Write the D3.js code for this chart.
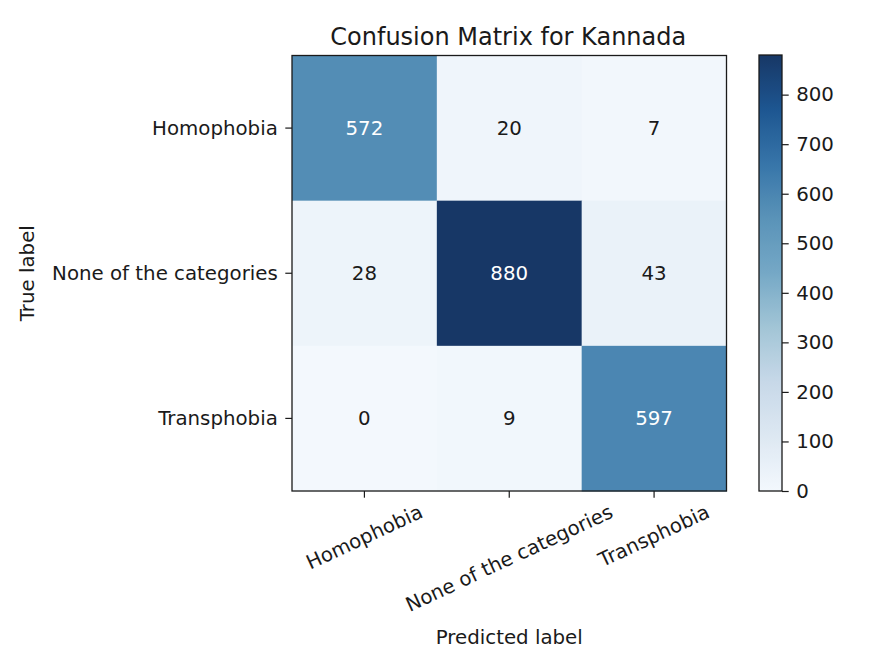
<!DOCTYPE html>
<html>
<head>
<meta charset="utf-8">
<script src="https://cdn.jsdelivr.net/npm/d3@7"></script>
<style>
  html, body { margin: 0; padding: 0; background: #fff; }
  svg { display: block; font-family: "DejaVu Sans", sans-serif; }
</style>
</head>
<body>
<svg id="chart" width="885" height="670"></svg>
<script>
// ---- data ----
const trueLabels = ["Homophobia", "None of the categories", "Transphobia"];
const predLabels = ["Homophobia", "None of the categories", "Transphobia"];
const rowHomophobia = [572, 20, 7];
const rowNone = [28, 880, 43];
const rowTransphobia = [0, 9, 597];
const colorbarTicks = [0, 100, 200, 300, 400, 500, 600, 700, 800];
const titleText = "Confusion Matrix for Kannada";
const xTitle = "Predicted label";
const yTitle = "True label";

const matrix = [rowHomophobia, rowNone, rowTransphobia];
const cells = [];
matrix.forEach((row, i) => row.forEach((v, j) => cells.push({ t: trueLabels[i], p: predLabels[j], v })));
const vmax = d3.max(cells, d => d.v);

// ---- layout ----
const svg = d3.select("#chart");
const L = 292, R = 726.5, T = 55.5, B = 491;
const fs = 19.8, titleFs = 24;
const tickLen = 6.7, pad = 7.5;
const ink = "#1a1a1a";

// matplotlib Blues, slightly muted to match the reference rendering
const bluesStops = ["#f7fbff", "#deebf7", "#c6dbef", "#9ecae1", "#6baed6", "#4292c6", "#2171b5", "#08519c", "#08306b"]
  .map(c => {
    const h = d3.hsl(c);
    h.s *= 0.74;
    if (h.l < 0.6) h.l = h.l + 0.02; else h.l = h.l - 0.012;
    return h.formatHex();
  });
const blues = d3.scaleLinear().domain(d3.range(9).map(i => i / 8)).range(bluesStops).interpolate(d3.interpolateRgb);
const color = v => blues(v / vmax);

const x = d3.scaleBand().domain(predLabels).range([L, R]);
const y = d3.scaleBand().domain(trueLabels).range([T, B]);

// cells
svg.append("g").selectAll("rect").data(cells).join("rect")
  .attr("x", d => x(d.p)).attr("y", d => y(d.t))
  .attr("width", x.bandwidth() + 0.5).attr("height", y.bandwidth() + 0.5)
  .attr("fill", d => color(d.v));

// cell text
svg.append("g").selectAll("text").data(cells).join("text")
  .attr("x", d => x(d.p) + x.bandwidth() / 2)
  .attr("y", d => y(d.t) + y.bandwidth() / 2)
  .attr("text-anchor", "middle").attr("dominant-baseline", "central")
  .attr("font-size", fs)
  .attr("fill", d => d.v > vmax / 2 ? "#ffffff" : ink)
  .text(d => d.v);

// frame
svg.append("rect").attr("x", L).attr("y", T).attr("width", R - L).attr("height", B - T)
  .attr("fill", "none").attr("stroke", ink).attr("stroke-width", 1.3);

// y axis
const yAxis = svg.append("g");
trueLabels.forEach(lbl => {
  const cy = y(lbl) + y.bandwidth() / 2;
  yAxis.append("line").attr("x1", L - tickLen).attr("x2", L).attr("y1", cy).attr("y2", cy)
    .attr("stroke", ink).attr("stroke-width", 1.2);
  yAxis.append("text").attr("x", L - tickLen - pad).attr("y", cy)
    .attr("text-anchor", "end").attr("dominant-baseline", "central")
    .attr("font-size", fs).attr("fill", ink).text(lbl);
});

// x axis (rotated 25deg, bbox centred on tick, top-aligned)
const xAxis = svg.append("g");
const ang = 25 * Math.PI / 180;
predLabels.forEach(lbl => {
  const cx = x(lbl) + x.bandwidth() / 2;
  xAxis.append("line").attr("x1", cx).attr("x2", cx).attr("y1", B).attr("y2", B + tickLen)
    .attr("stroke", ink).attr("stroke-width", 1.2);
  const t = xAxis.append("text")
    .attr("text-anchor", "middle").attr("dominant-baseline", "central")
    .attr("font-size", fs).attr("fill", ink).text(lbl);
  const w = t.node().getComputedTextLength();
  const h = fs * 0.9;
  const bh = w * Math.sin(ang) + h * Math.cos(ang);
  const cyy = B + tickLen + 5 + bh / 2;
  t.attr("transform", `translate(${cx},${cyy}) rotate(-25)`);
});

// axis titles
svg.append("text").attr("x", (L + R) / 2).attr("y", 644)
  .attr("text-anchor", "middle").attr("font-size", fs).attr("fill", ink).text(xTitle);
svg.append("text").attr("transform", `translate(34,${(T + B) / 2}) rotate(-90)`)
  .attr("text-anchor", "middle").attr("font-size", fs).attr("fill", ink).text(yTitle);

// title
svg.append("text").attr("x", (L + R) / 2 - 1).attr("y", 45)
  .attr("text-anchor", "middle").attr("font-size", titleFs).attr("fill", ink).text(titleText);

// colorbar
const cbL = 759, cbR = 782, cbT = 55, cbB = 491;
const cScale = d3.scaleLinear().domain([0, vmax]).range([cbB, cbT]);
const defs = svg.append("defs");
const grad = defs.append("linearGradient").attr("id", "cbgrad")
  .attr("x1", 0).attr("y1", 1).attr("x2", 0).attr("y2", 0);
d3.range(0, 1.0001, 1 / 64).forEach(f => {
  grad.append("stop").attr("offset", f).attr("stop-color", blues(f));
});
svg.append("rect").attr("x", cbL).attr("y", cbT).attr("width", cbR - cbL).attr("height", cbB - cbT)
  .attr("fill", "url(#cbgrad)").attr("stroke", ink).attr("stroke-width", 1.3);
const cAxis = svg.append("g").attr("transform", `translate(${cbR},0)`)
  .call(d3.axisRight(cScale).tickValues(colorbarTicks).tickSize(tickLen).tickPadding(pad).tickFormat(d3.format("d")));
cAxis.select(".domain").remove();
cAxis.selectAll("line").attr("stroke", ink).attr("stroke-width", 1.2);
cAxis.selectAll("text").attr("font-size", fs).attr("font-family", "DejaVu Sans, sans-serif").attr("fill", ink);
</script>
</body>
</html>
